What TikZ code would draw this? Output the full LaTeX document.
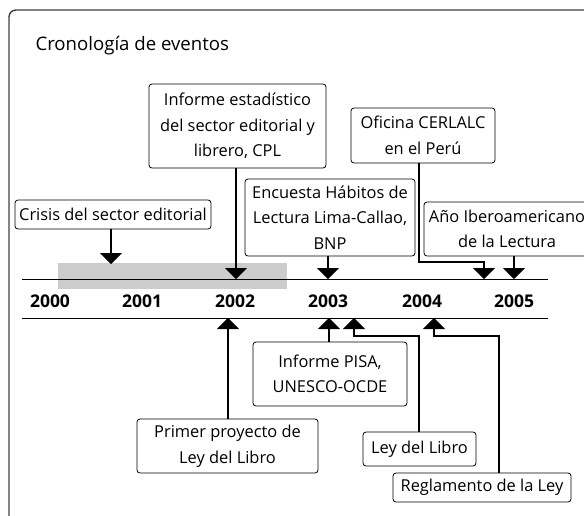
\documentclass[tikz,border=0pt]{standalone}
\usepackage{fontspec}
\setmainfont{Open Sans}
\usetikzlibrary{arrows.meta, positioning}

\tikzset{
  evento/.style={draw, line width=0.8pt, rounded corners=3pt, align=center, inner sep=2pt,
    font=\fontsize{16.4}{25.5}\selectfont},
  anio/.style={anchor=base, font=\fontsize{17.5}{19}\selectfont\bfseries},
  flecha/.style={line width=1.3pt, -{Triangle[width=22pt,length=11pt]}},
}

\begin{document}
\begin{tikzpicture}[x=1pt, y=-1pt]
  \useasboundingbox (0,0) rectangle (584,515);

  % marco y titulo
  \draw[line width=1.4pt, black!75, rounded corners=7pt] (9,530) -- (9,10) -- (600,10);
  \node[anchor=base west, font=\fontsize{18.6}{21}\selectfont] (titulo) at (32,50) {Cronología de eventos};

  % eje de tiempo
  \fill[black!20] (58,263) rectangle (287,289);
  \draw[line width=1pt] (22,279) -- (548,279);
  \draw[line width=1pt] (22,318) -- (548,318);
  \node[anio] (a2000) at (50,307) {2000};
  \node[anio] (a2001) at (142,307) {2001};
  \node[anio] (a2002) at (235,307) {2002};
  \node[anio] (a2003) at (328,307) {2003};
  \node[anio] (a2004) at (422,307) {2004};
  \node[anio] (a2005) at (514,307) {2005};

  % eventos arriba
  \node[evento, minimum width=196pt, minimum height=29pt] (crisis) at (113,214.5) {Crisis del sector editorial};
  \node[evento, minimum width=177pt, minimum height=84pt] (informe) at (237.5,126) {Informe estadístico\\del sector editorial y\\librero, CPL};
  \node[evento, minimum width=144pt, minimum height=55pt] (oficina) at (423,135.5) {Oficina CERLALC\\en el Perú};
  \node[evento, minimum width=170pt, minimum height=77pt] (encuesta) at (330,217.5) {Encuesta Hábitos de\\Lectura Lima-Callao,\\BNP};
  \node[evento, minimum width=166pt, minimum height=54pt] (ibero) at (507,229) {Año Iberoamericano\\de la Lectura};

  % eventos abajo
  \node[evento, minimum width=154pt, minimum height=64pt] (pisa) at (330,374) {Informe PISA,\\UNESCO-OCDE};
  \node[evento, minimum width=181pt, minimum height=54pt] (primer) at (227.5,446) {Primer proyecto de\\Ley del Libro};
  \node[evento, minimum width=113pt, minimum height=34pt] (ley) at (419.5,449) {Ley del Libro};
  \node[evento, minimum width=178pt, minimum height=29pt] (reglamento) at (482,487.5) {Reglamento de la Ley};

  % puntas de flecha
  \coordinate (tCrisis) at (111,264);
  \coordinate (tInforme) at (236,279);
  \coordinate (tEncuesta) at (328,279);
  \coordinate (tOficina) at (484,279);
  \coordinate (tIbero) at (514,279);
  \coordinate (tPrimer) at (228,318);
  \coordinate (tPisa) at (329,318);
  \coordinate (tLey) at (354,318);
  \coordinate (tRegl) at (434,318);

  \draw[flecha] (crisis.south -| tCrisis) -- (tCrisis);
  \draw[flecha] (informe.south -| tInforme) -- (tInforme);
  \draw[flecha] (encuesta.south -| tEncuesta) -- (tEncuesta);
  \draw[flecha] (oficina.south -| 419,0) -- (419,262) -| (tOficina);
  \draw[flecha] (ibero.south -| tIbero) -- (tIbero);
  \draw[flecha] (primer.north -| tPrimer) -- (tPrimer);
  \draw[flecha] (pisa.north -| tPisa) -- (tPisa);
  \draw[flecha] (ley.north -| 419,0) -- (419,336) -| (tLey);
  \draw[flecha] (reglamento.north -| 499,0) -- (499,336) -| (tRegl);
\end{tikzpicture}
\end{document}
